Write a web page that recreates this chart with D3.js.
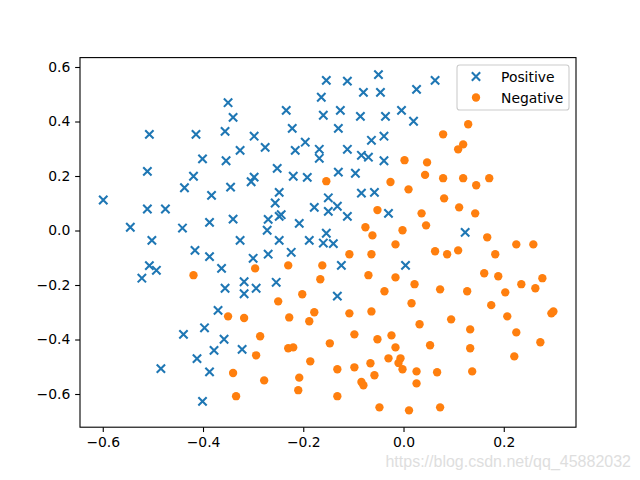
<!DOCTYPE html>
<html>
<head>
<meta charset="utf-8">
<script src="https://cdn.jsdelivr.net/npm/d3@7/dist/d3.min.js"></script>
<style>
  html, body { margin: 0; padding: 0; background: #fff; }
  svg { display: block; }
</style>
</head>
<body>
<svg id="chart" width="640" height="480"></svg>
<script>
const seriesNames = ["Positive", "Negative"];
const xTicks = [-0.6, -0.4, -0.2, 0.0, 0.2];
const yTicks = [-0.6, -0.4, -0.2, 0.0, 0.2, 0.4, 0.6];

const positiveX = [-0.350,-0.340,-0.507,-0.414,-0.356,-0.326,-0.401,-0.354,-0.511,-0.419,-0.437,-0.345,-0.599,-0.383,-0.511,-0.475,-0.545,-0.441,-0.387,-0.340,-0.502,-0.326,-0.416,-0.387,-0.507,-0.493,-0.522,-0.363,-0.300,-0.318,-0.356,-0.318,-0.370,-0.439,-0.397,-0.358,-0.378,-0.322,-0.412,-0.484,-0.387,-0.401,-0.154,-0.112,-0.050,-0.080,-0.046,-0.164,-0.234,-0.160,-0.126,-0.086,-0.036,-0.004,0.020,-0.222,-0.130,-0.298,-0.276,-0.196,-0.216,-0.168,-0.168,-0.112,-0.064,-0.039,-0.084,-0.070,-0.039,-0.252,-0.298,-0.304,-0.220,-0.192,-0.130,-0.096,-0.248,-0.256,-0.244,-0.248,-0.270,-0.272,-0.208,-0.178,-0.150,-0.150,-0.132,-0.112,-0.084,-0.058,-0.030,-0.154,-0.248,-0.188,-0.160,-0.140,-0.270,-0.224,-0.124,0.004,-0.294,-0.254,-0.132,0.063,0.026,0.123];
const positiveY = [0.469,0.415,0.353,0.353,0.364,0.294,0.263,0.256,0.217,0.199,0.157,0.159,0.112,0.129,0.079,0.079,0.012,0.009,0.030,0.042,-0.036,-0.036,-0.073,-0.096,-0.129,-0.146,-0.175,-0.139,-0.102,-0.188,-0.212,-0.232,-0.293,-0.381,-0.357,-0.399,-0.440,-0.436,-0.470,-0.507,-0.519,-0.627,0.551,0.548,0.572,0.507,0.507,0.489,0.441,0.423,0.441,0.419,0.419,0.441,0.401,0.375,0.375,0.346,0.305,0.324,0.294,0.298,0.265,0.298,0.331,0.346,0.276,0.269,0.256,0.228,0.196,0.179,0.199,0.195,0.214,0.210,0.140,0.101,0.058,0.052,0.041,0.001,0.026,0.085,0.120,0.070,0.089,0.052,0.137,0.140,0.063,-0.010,-0.036,-0.036,-0.046,-0.048,-0.087,-0.080,-0.128,-0.128,-0.212,-0.190,-0.241,0.551,0.518,-0.007];

const negativeX = [-0.419,-0.350,-0.318,-0.340,-0.334,0.002,-0.154,-0.026,0.010,-0.052,-0.076,-0.062,-0.002,-0.016,-0.296,-0.230,-0.162,-0.108,-0.064,-0.166,-0.070,-0.016,-0.038,-0.202,-0.250,0.016,-0.228,-0.178,-0.188,-0.108,-0.064,-0.286,-0.230,-0.220,-0.147,-0.098,-0.052,-0.024,-0.016,-0.294,-0.186,-0.030,-0.006,-0.010,-0.002,-0.066,-0.132,-0.098,-0.058,-0.278,-0.208,-0.210,-0.084,-0.080,-0.132,-0.048,0.011,0.129,0.079,0.119,0.109,0.047,0.043,0.079,0.119,0.145,0.171,0.081,0.111,0.143,0.036,0.045,0.167,0.225,0.259,0.063,0.087,0.109,0.183,0.161,0.189,0.277,0.235,0.263,0.203,0.022,0.073,0.127,0.175,0.207,0.295,0.299,0.032,0.095,0.133,0.225,0.273,0.053,0.133,0.221,0.026,0.067,0.137,0.026,0.073];
const negativeY = [-0.164,-0.315,-0.321,-0.523,-0.608,0.258,0.181,0.178,0.151,0.075,0.012,-0.018,0.001,-0.051,-0.139,-0.128,-0.128,-0.087,-0.087,-0.179,-0.164,-0.172,-0.223,-0.234,-0.260,-0.267,-0.319,-0.300,-0.333,-0.304,-0.297,-0.388,-0.432,-0.429,-0.414,-0.381,-0.399,-0.385,-0.429,-0.458,-0.480,-0.469,-0.469,-0.486,-0.509,-0.487,-0.509,-0.502,-0.531,-0.550,-0.540,-0.586,-0.556,-0.568,-0.608,-0.649,-0.660,0.390,0.353,0.316,0.298,0.250,0.204,0.192,0.192,0.166,0.192,0.118,0.085,0.063,0.063,0.019,-0.025,-0.051,-0.051,-0.076,-0.087,-0.073,-0.087,-0.157,-0.168,-0.175,-0.197,-0.212,-0.227,-0.197,-0.216,-0.223,-0.274,-0.315,-0.304,-0.297,-0.344,-0.326,-0.363,-0.374,-0.410,-0.421,-0.432,-0.462,-0.517,-0.520,-0.517,-0.561,-0.649];

const colors = ["#1f77b4", "#ff7f0e"];

const svg = d3.select("#chart");
const pL = 80, pR = 576, pT = 57.6, pB = 427.2;

const x = d3.scaleLinear().domain([-0.6454, 0.3441]).range([pL, pR]);
const y = d3.scaleLinear().domain([-0.7218, 0.6345]).range([pB, pT]);

const fmt = d => d3.format(".1f")(d).replace("-", "\u2212");
const fontFam = "'DejaVu Sans', sans-serif";

const posData = positiveX.map((v, i) => ({x: v, y: positiveY[i]}));
const negData = negativeX.map((v, i) => ({x: v, y: negativeY[i]}));

const plot = svg.append("g");
const hs = 4.17;
const xPath = (cx, cy) => `M${cx-hs},${cy-hs}L${cx+hs},${cy+hs}M${cx-hs},${cy+hs}L${cx+hs},${cy-hs}`;
plot.selectAll("path.pos").data(posData).enter().append("path")
  .attr("class", "pos")
  .attr("d", d => xPath(x(d.x), y(d.y)))
  .attr("stroke", colors[0]).attr("stroke-width", 2.08).attr("fill", "none");

plot.selectAll("circle.neg").data(negData).enter().append("circle")
  .attr("class", "neg")
  .attr("cx", d => x(d.x)).attr("cy", d => y(d.y)).attr("r", 4.17)
  .attr("fill", colors[1]);

const xAxis = d3.axisBottom(x).tickValues(xTicks).tickFormat(fmt).tickSize(4.86).tickPadding(4.86);
const yAxis = d3.axisLeft(y).tickValues(yTicks).tickFormat(fmt).tickSize(4.86).tickPadding(4.86);

const gx = svg.append("g").attr("transform", `translate(0,${pB})`).call(xAxis);
const gy = svg.append("g").attr("transform", `translate(${pL},0)`).call(yAxis);
[gx, gy].forEach(g => {
  g.select(".domain").remove();
  g.selectAll(".tick line").attr("stroke", "#000").attr("stroke-width", 1.1);
  g.selectAll(".tick text").attr("fill", "#000").attr("font-family", fontFam).attr("font-size", "13.9px");
});

svg.append("rect").attr("x", pL).attr("y", pT).attr("width", pR - pL).attr("height", pB - pT)
  .attr("fill", "none").attr("stroke", "#000").attr("stroke-width", 1.1);

const lg = svg.append("g");
lg.append("rect").attr("x", 457).attr("y", 65).attr("width", 112).attr("height", 45)
  .attr("rx", 2.8).attr("fill", "#fff").attr("fill-opacity", 0.8)
  .attr("stroke", "#cccccc").attr("stroke-width", 1.1);
seriesNames.forEach((name, i) => {
  const cy = 76.5 + i * 21;
  if (i === 0) {
    lg.append("path").attr("d", xPath(476, cy))
      .attr("stroke", colors[0]).attr("stroke-width", 2.08);
  } else {
    lg.append("circle").attr("cx", 476).attr("cy", cy).attr("r", 4.17).attr("fill", colors[1]);
  }
  lg.append("text").attr("x", 501).attr("y", cy + 5).text(name)
    .attr("font-family", fontFam).attr("font-size", "13.9px").attr("fill", "#000");
});

svg.append("text").attr("x", 631).attr("y", 467).attr("text-anchor", "end")
  .attr("font-family", "'Liberation Sans', Arial, sans-serif").attr("font-size", "16px")
  .attr("fill", "#dedede").text("https://blog.csdn.net/qq_45882032");
</script>
</body>
</html>
